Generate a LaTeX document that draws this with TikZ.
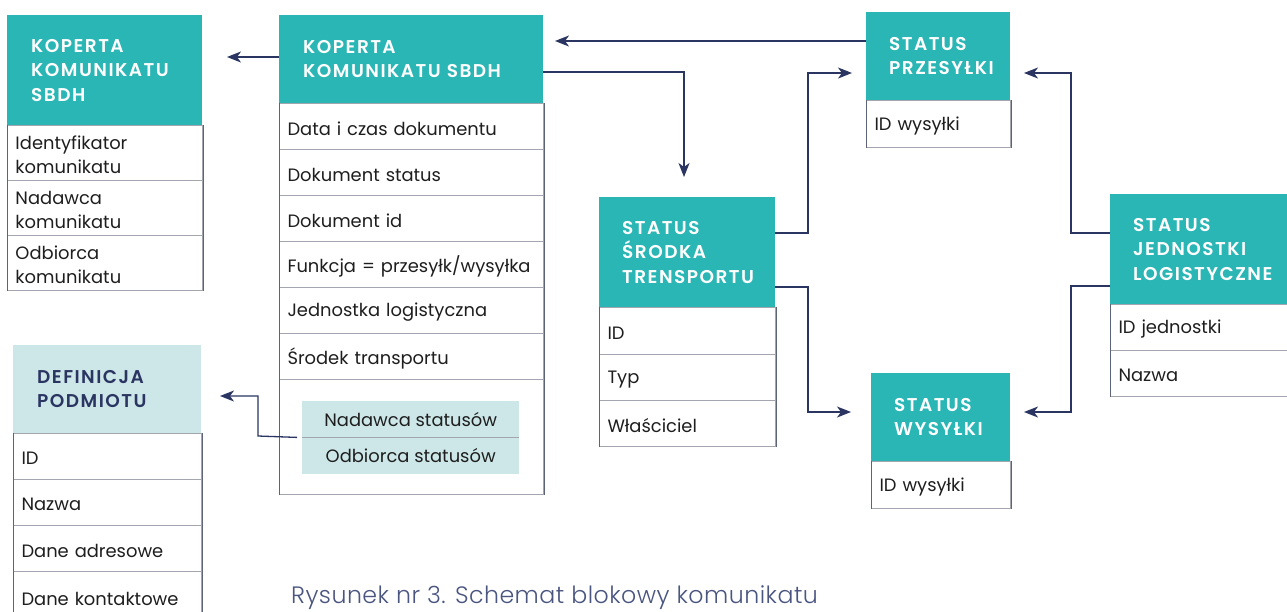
\documentclass[tikz,border=0pt]{standalone}
\usepackage{fontspec}
\setmainfont{Poppins}
\usetikzlibrary{arrows.meta}

\definecolor{hdteal}{HTML}{2BB6B6}
\definecolor{hdpale}{HTML}{CDE7E8}
\definecolor{linknavy}{HTML}{2B3562}
\definecolor{rowline}{HTML}{A3A6AE}
\definecolor{frameline}{HTML}{5E6478}
\definecolor{bodytxt}{HTML}{1E1E1E}
\definecolor{captxt}{HTML}{4A5580}

\newfontfamily\hdrface{Poppins SemiBold}[LetterSpace=8]
\newfontfamily\capface{Poppins Light}[LetterSpace=2]
\newcommand{\hdrfont}{\hdrface\fontsize{18.5}{24.5}\selectfont}
\newcommand{\cellfont}{\fontsize{17.9}{24}\selectfont}

\tikzset{
  hdr/.style={fill=hdteal, text=white, font=\hdrfont, anchor=north west,
    align=left, inner xsep=0pt, inner ysep=0pt, draw=none},
  paledr/.style={hdr, fill=hdpale, text=linknavy},
  cell/.style={draw=rowline, line width=1pt, fill=white, text=bodytxt,
    font=\cellfont, anchor=north west, align=left, inner xsep=0pt, inner ysep=0pt},
  subcell/.style={fill=hdpale, text=bodytxt, font=\cellfont, anchor=north west,
    align=center, inner sep=0pt},
  side/.style={draw=frameline, line width=1pt},
  link/.style={draw=linknavy, line width=1.3pt,
    -{Stealth[length=14pt, width=11pt, inset=4pt]}},
}

% header block: [style] name, x, y, width, height, text indent, text
\newcommand{\headbox}[8][hdr]{%
  \pgfmathsetmacro{\tw}{#5}%
  \node[#1, minimum width=#5pt, minimum height=#6pt, text width=\tw pt] (#2) at (#3,#4) {\hspace*{#7pt}#8};}
% data row: name, x, y, width, height, text (set 2pt below the centre line)
\newcommand{\rowcell}[6]{%
  \pgfmathsetmacro{\tw}{#4-10}%
  \node[cell, minimum width=#4pt, minimum height=#5pt, text width=#4pt] (#1) at (#2,#3) {\hspace*{8pt}\raisebox{-2pt}[\height][\depth]{\parbox[c]{\tw pt}{#6}}};}

\begin{document}
\begin{tikzpicture}[x=1pt, y=-1pt]
\useasboundingbox (0,0) rectangle (1287,611);
\fill[white] (0,0) rectangle (1287,611);

% --- KOPERTA KOMUNIKATU SBDH (left) ---
\headbox{hA}{7}{15}{195}{110}{24}{KOPERTA\\\hspace*{24pt}KOMUNIKATU\\\hspace*{24pt}SBDH}
\rowcell{a1}{7}{125}{195}{55}{Identyfikator\\komunikatu}
\rowcell{a2}{7}{180}{195}{55}{Nadawca\\komunikatu}
\rowcell{a3}{7}{235}{195}{55}{Odbiorca\\komunikatu}
\draw[side] (a1.north west) -- (a3.south west);
\draw[side] (a1.north east) -- (a3.south east);

% --- KOPERTA KOMUNIKATU SBDH (middle) ---
\headbox{hB}{279}{15}{264}{88}{24}{KOPERTA\\\hspace*{24pt}KOMUNIKATU SBDH}
\rowcell{b1}{279}{103}{264}{46}{Data i czas dokumentu}
\rowcell{b2}{279}{149}{264}{46}{Dokument status}
\rowcell{b3}{279}{195}{264}{46}{Dokument id}
\rowcell{b4}{279}{241}{264}{46}{Funkcja = przesyłk/wysyłka}
\rowcell{b5}{279}{287}{264}{46}{Jednostka logistyczna}
\rowcell{b6}{279}{333}{264}{46}{Środek transportu}
\rowcell{b7}{279}{379}{264}{115}{}
\draw[side] (b1.north west) -- (b7.south west);
\draw[side] (b1.north east) -- (b7.south east);
\node[subcell, minimum width=217pt, minimum height=36pt] (nad) at (302,401) {Nadawca statusów};
\node[subcell, minimum width=217pt, minimum height=37pt] (odb) at (302,437) {Odbiorca statusów};
\draw[rowline, line width=1pt] (nad.south west) -- (nad.south east);

% --- DEFINICJA PODMIOTU ---
\headbox[paledr]{hC}{13}{345}{188}{88}{24}{DEFINICJA\\\hspace*{24pt}PODMIOTU}
\rowcell{c1}{13}{433}{188}{46}{ID}
\rowcell{c2}{13}{479}{188}{46}{Nazwa}
\rowcell{c3}{13}{525}{188}{46}{Dane adresowe}
\rowcell{c4}{13}{571}{188}{50}{Dane kontaktowe}
\draw[side] (c1.north west) -- (c4.south west);
\draw[side] (c1.north east) -- (c4.south east);

% --- STATUS ŚRODKA TRENSPORTU ---
\headbox{hD}{599}{197}{176}{110}{23}{STATUS\\\hspace*{23pt}ŚRODKA\\\hspace*{23pt}TRENSPORTU}
\rowcell{d1}{599}{307}{176}{47}{ID}
\rowcell{d2}{599}{354}{176}{46}{Typ}
\rowcell{d3}{599}{400}{176}{46}{Właściciel}
\draw[side] (d1.north west) -- (d3.south west);
\draw[side] (d1.north east) -- (d3.south east);

% --- STATUS PRZESYŁKI ---
\headbox{hE}{866}{12}{144}{88}{23}{STATUS\\\hspace*{23pt}PRZESYŁKI}
\rowcell{e1}{866}{100}{144}{47}{ID wysyłki}
\draw[side] (e1.north west) -- (e1.south west);
\draw[side] (e1.north east) -- (e1.south east);

% --- STATUS JEDNOSTKI LOGISTYCZNE ---
\headbox{hF}{1110}{194}{185}{110}{23}{STATUS\\\hspace*{23pt}JEDNOSTKI\\\hspace*{23pt}LOGISTYCZNE}
\rowcell{f1}{1110}{304}{185}{46}{ID jednostki}
\rowcell{f2}{1110}{350}{185}{46}{Nazwa}
\draw[side] (f1.north west) -- (f2.south west);

% --- STATUS WYSYŁKI ---
\headbox{hG}{871}{373}{139}{88}{23}{STATUS\\\hspace*{23pt}WYSYŁKI}
\rowcell{g1}{871}{461}{139}{47}{ID wysyłki}
\draw[side] (g1.north west) -- (g1.south west);
\draw[side] (g1.north east) -- (g1.south east);

% --- connectors ---
\coordinate (t1) at (227,57);
\coordinate (t2) at (555,41);
\coordinate (k3) at (684,72);
\coordinate (t3) at (684,177);
\coordinate (k4) at (808,233);
\coordinate (t4) at (852,73);
\coordinate (k5) at (808,287);
\coordinate (t5) at (851,412);
\coordinate (k6) at (1071,233);
\coordinate (t6) at (1024,73);
\coordinate (k7) at (1071,286);
\coordinate (t7) at (1024,412);
\coordinate (k8) at (258,436);
\coordinate (t8) at (220,396);

\draw[link] (hB.west |- t1) -- (t1);
\draw[link] (hE.west |- t2) -- (t2);
\draw[link] (hB.east |- k3) -- (k3) -- (t3);
\draw[link] (hD.east |- k4) -- (k4) |- (t4);
\draw[link] (hD.east |- k5) -- (k5) |- (t5);
\draw[link] (hF.west |- k6) -- (k6) |- (t6);
\draw[link] (hF.west |- k7) -- (k7) |- (t7);
\draw[link] ([xshift=-5pt]nad.south west) -- (k8) |- (t8);

% --- caption ---
\node[anchor=base west, inner sep=0pt, text=captxt, font=\capface\fontsize{23.7}{28}\selectfont] (cap) at (291,603) {Rysunek nr 3. Schemat blokowy komunikatu};
\end{tikzpicture}
\end{document}
